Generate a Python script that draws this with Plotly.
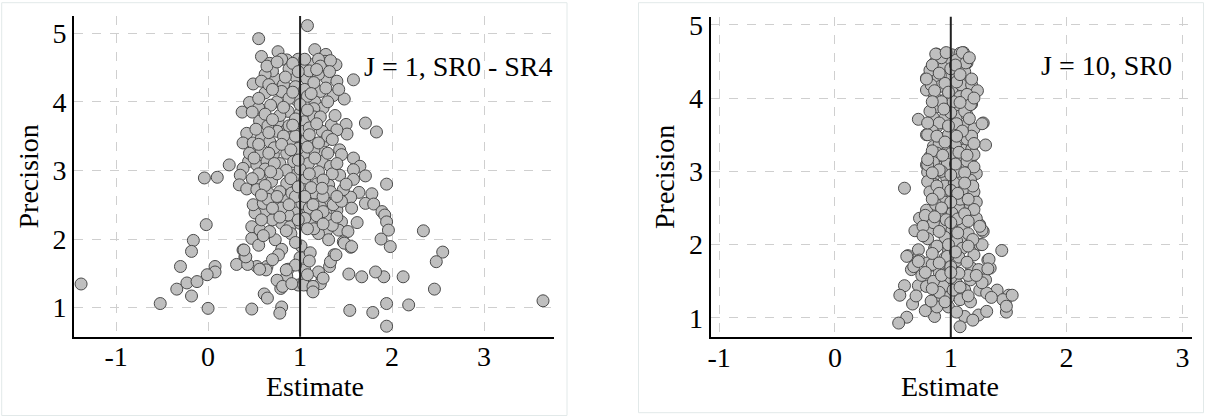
import plotly.graph_objects as go

# ---------------- data ----------------
left_title = "J = 1, SR0 - SR4"
right_title = "J = 10, SR0"
x_title = "Estimate"
y_title = "Precision"
x_ticks = [-1, 0, 1, 2, 3]
x_tick_labels = ["-1", "0", "1", "2", "3"]
y_ticks = [1, 2, 3, 4, 5]
reference_estimate = 1

left_estimate = [
    -1.38, -0.52, -0.34, -0.30, -0.23, 2.55, 2.48, 2.46, 3.64,
    1.08, 0.55, 0.58, 0.76, 0.855, 0.67, 1.16, 1.28, 1.39, 1.58,
    1.27, 1.13, 1.02, 0.95, 0.73, 1.07, 1.29, 0.49, 0.95, 0.82,
    1.22, 1.36, 1.48, 0.62, 0.75, 0.96, 1.16, 0.45, 0.37, 0.55,
    0.87, 1.00, 1.25, 1.05, 0.76, 0.56, 1.34, 1.50, 1.71, 1.83,
    1.51, 1.40, 1.24, 1.04, 0.855, 0.75, 0.42, 0.38, 0.49, 0.58,
    0.67, 0.89, 1.02, 1.14, 1.27, 1.43, 1.45, 0.58, 0.71, 0.855,
    1.04, 1.22, 0.44, 0.23, 0.38, 0.53, 0.64, 0.78, 0.93, 1.09,
    1.24, 1.33, 1.58, 1.65, 1.58, 0.80, 0.98, 1.20,
    -0.04, 0.10, 0.35, 0.34, 0.42, 0.57, 0.69, 0.855, 0.95, 1.05,
    1.18, 1.31, 1.43, 1.58, 1.71, 1.94, 1.78, 1.64, 1.55, 1.56,
    1.71, 1.80, 1.89, 1.92, 1.94, 1.96, 1.88, 1.98, 2.34, 1.40,
    1.45, 1.42, 1.62, 1.52, 1.29, 1.20, 1.31, 1.47, 1.55, 1.37,
    1.32, 1.24, 1.13, 1.05, 1.00, 1.01, 1.11, 0.87, 0.855, 0.98,
    0.79, 0.80, 0.78, 0.475, 0.00, 0.64, 0.63, 0.53, 0.61, 0.645,
    0.40, 0.38, 0.31, 0.475, 0.55, 0.73, 0.80, 0.765, 0.475, 0.565,
    0.67, 0.80, 0.89, 1.00, 1.11, 1.07, 0.96, 0.87, 0.73, 0.62,
    0.51, 0.49, 0.60, 0.71, 0.855, 1.02, 1.18, 1.29, 1.22, 1.36,
    0.53, 0.655, 0.78, 0.91, 1.04, 1.16, 1.33, 1.47, 1.91, 1.82,
    1.67, 1.53, 2.12, 2.18, 1.94, 1.79, 1.54, 1.94, -0.16, -0.18,
    0.076, 0.076, -0.01, -0.12, -0.18, -0.02,
    0.70, 0.88, 1.10, 1.20, 0.62, 0.80, 1.05, 1.15, 0.88, 1.08,
    0.68, 1.15, 0.78, 0.95, 1.15, 0.65, 0.88, 1.10, 1.30, 0.95,
    0.72, 0.98, 1.15, 0.45, 0.62, 0.85, 1.00, 1.20, 1.35, 0.75,
    0.55, 1.12, 0.95, 1.25, 0.65, 1.10, 0.80, 1.45, 1.05, 0.70,
    1.30, 0.90, 1.15, 0.60, 1.35, 0.95, 1.10, 0.70, 0.95, 1.20,
    0.75, 1.05, 1.22, 0.56, 0.81, 0.91, 0.85, 1.04, 1.14, 1.14,
    1.08, 1.25, 1.33, 1.39, 1.48, 1.56, 0.43, 0.41, 0.39,
    0.64, 0.75, 0.92, 1.05, 1.22, 1.33,
    0.58, 0.84, 0.98, 1.18, 1.32, 1.40, 0.66,
    0.70, 0.92, 1.12, 1.28, 1.42, 0.55, 1.00, 1.30,
    0.48, 0.62, 0.82, 1.08, 1.22, 1.38, 0.70, 0.92, 1.18,
    0.52, 0.66, 0.82, 1.10, 1.35, 0.55, 0.80, 1.08, 1.20,
    0.50, 0.66, 0.90, 1.30, 0.72, 0.98, 1.16, 1.40,
    0.48, 0.68, 0.90, 1.10, 1.25, 1.50, 0.62, 0.98, 1.24,
    0.58, 0.75, 0.88, 1.05, 1.14, 1.40, 0.70, 1.25,
    0.58, 0.78, 0.98, 1.18, 1.40, 0.85, 1.08, 1.25,
]
left_precision = [
    1.345, 1.06, 1.27, 1.60, 1.36, 1.81, 1.67, 1.27, 1.10,
    5.11, 4.92, 4.66, 4.73, 4.61, 4.56, 4.76, 4.69, 4.54, 4.32,
    4.59, 4.54, 4.54, 4.37, 4.34, 4.34, 4.34, 4.26, 4.22, 4.25,
    4.15, 4.09, 4.04, 4.13, 4.00, 4.03, 4.00, 3.99, 3.85, 3.91,
    3.86, 3.83, 3.91, 3.71, 3.71, 3.72, 3.66, 3.67, 3.69, 3.56,
    3.53, 3.59, 3.57, 3.57, 3.59, 3.57, 3.54, 3.40, 3.40, 3.47,
    3.42, 3.42, 3.42, 3.40, 3.43, 3.30, 3.23, 3.27, 3.23, 3.25,
    3.23, 3.25, 3.13, 3.08, 3.03, 3.08, 3.13, 3.10, 3.13, 3.10,
    3.13, 3.06, 3.18, 3.06, 3.01, 4.62, 4.62, 4.62,
    2.89, 2.90, 2.93, 2.79, 2.73, 2.86, 2.84, 2.81, 2.93, 2.86,
    2.80, 2.79, 2.93, 2.87, 2.92, 2.80, 2.66, 2.68, 2.61, 2.45,
    2.52, 2.51, 2.40, 2.35, 2.25, 2.13, 2.00, 1.89, 2.12, 2.42,
    2.25, 2.13, 2.24, 2.11, 2.13, 2.08, 1.99, 1.96, 1.88, 1.77,
    1.60, 1.43, 1.28, 1.55, 1.73, 1.90, 1.80, 1.56, 1.46, 1.33,
    1.28, 1.01, 0.92, 0.98, 0.99, 1.60, 1.55, 1.60, 1.20, 1.14,
    1.74, 1.84, 1.63, 2.01, 1.91, 1.99, 1.85, 1.77, 2.18, 2.13,
    2.11, 2.23, 2.18, 2.23, 2.25, 2.38, 2.38, 2.35, 2.40, 2.40,
    2.38, 2.50, 2.52, 2.55, 2.57, 2.52, 2.55, 2.52, 2.47, 2.50,
    2.72, 2.67, 2.69, 2.67, 2.72, 2.67, 2.69, 2.72, 1.45, 1.52,
    1.45, 1.49, 1.45, 1.04, 1.06, 0.93, 0.96, 0.73, 1.98, 1.82,
    1.60, 1.52, 1.48, 1.38, 1.17, 2.21,
    4.45, 4.48, 4.45, 4.40, 4.40, 4.15, 4.18, 4.28, 4.05, 4.08,
    3.95, 3.90, 3.80, 3.75, 3.78, 3.65, 3.65, 3.62, 3.50, 3.50,
    3.33, 3.32, 3.30, 3.25, 3.02, 3.00, 3.02, 2.98, 2.95, 2.95,
    2.95, 2.75, 2.62, 2.62, 2.58, 2.45, 2.45, 2.55, 2.30, 2.28,
    2.30, 2.08, 2.15, 2.05, 2.20, 1.95, 1.68, 1.70, 1.62, 1.52,
    1.40, 1.40, 1.35, 1.56, 1.31, 1.35, 1.55, 1.33, 1.31, 1.23,
    1.48, 1.43, 1.67, 1.77, 1.94, 1.89, 1.63, 1.74, 1.84,
    4.52, 4.58, 4.56, 4.62, 4.52, 4.60,
    4.30, 4.36, 4.44, 4.47, 4.44, 4.30, 4.25,
    4.18, 4.14, 4.12, 4.20, 4.18, 4.05, 3.96, 4.00,
    3.85, 3.82, 3.92, 3.88, 3.78, 3.80, 3.74, 3.66, 3.68,
    3.60, 3.55, 3.50, 3.52, 3.45, 3.38, 3.38, 3.34, 3.40,
    3.18, 3.25, 3.30, 3.25, 3.10, 3.15, 3.18, 3.10,
    2.88, 2.98, 2.88, 2.95, 2.86, 2.80, 2.78, 2.76, 2.74,
    2.64, 2.62, 2.50, 2.62, 2.50, 2.62, 2.45, 2.40,
    2.28, 2.32, 2.28, 2.34, 2.32, 2.12, 2.15, 2.22,
]

right_estimate = [
    0.878, 1.01, 1.11, 1.08, 0.86, 0.99, 1.14, 0.935, 1.065, 0.79,
    0.89, 1.01, 1.11, 0.79, 0.91, 1.01, 1.09, 1.18, 1.23, 0.86,
    0.965, 1.08, 1.18, 0.88, 0.98, 1.08, 0.72, 0.85, 0.95, 1.05,
    1.14, 1.28, 0.88, 1.01, 1.11, 0.79, 0.91, 1.05, 1.17, 1.30,
    0.85, 0.965, 1.11, 0.82, 0.935, 1.05, 1.18, 0.79, 0.89, 1.01,
    1.11, 1.22, 0.85, 0.965, 1.08, 0.60, 0.86, 1.09,
    0.89, 1.01, 1.11, 1.19, 1.17, 1.19, 1.065, 1.01, 0.91, 0.82,
    0.73, 0.79, 0.69, 0.82, 0.92, 1.01, 1.11, 1.25, 1.28, 1.12,
    1.18, 1.25, 1.44, 0.86, 0.98, 0.72, 0.63, 0.73, 0.66, 0.835,
    0.99, 1.065, 1.18, 1.24, 1.32, 1.34, 0.60, 0.56, 0.72, 0.79,
    0.935, 1.05, 1.17, 1.12, 1.25, 1.40, 1.47, 1.50, 1.31, 0.67,
    0.835, 0.91, 0.98, 0.98, 1.08, 1.17, 0.62, 0.55, 0.86, 1.12,
    1.24, 1.31, 1.08, 1.19, 1.48, 1.45, 1.53, 1.48,
    0.92, 1.05, 0.82, 1.00, 1.12, 0.95, 1.05, 0.83, 1.14, 0.92,
    1.02, 0.82, 1.12, 1.00, 0.90, 1.05, 1.20, 0.84, 0.98, 1.14,
    0.90, 1.04, 1.18, 0.88, 1.00, 1.14, 0.85, 0.97, 1.06, 0.80,
    0.92, 1.17, 0.80, 0.95, 1.03, 0.82, 1.00, 1.20, 0.95, 1.08,
    0.87, 1.22, 0.78, 0.96, 1.06, 1.22, 0.85, 0.76, 1.15, 0.95,
    0.80, 1.05, 0.88, 1.10, 1.20, 0.95, 0.80, 1.05, 0.90, 1.15,
    0.75, 1.00, 0.85, 1.30, 0.68, 0.70, 0.90, 1.02, 0.78, 1.05,
    0.88, 1.35, 1.33, 1.32, 1.27, 1.19, 1.27, 1.25, 1.19, 1.20,
    0.80, 0.80, 1.27, 1.20, 1.18, 1.17, 0.79, 0.87, 1.10, 1.13,
    0.62, 0.72, 0.84, 0.92, 1.07, 1.07, 0.97, 1.00, 0.83, 1.27,
    0.84, 0.96, 1.16, 1.04, 0.90, 1.08, 1.18, 0.86, 0.98, 1.20,
    0.84, 1.08, 0.94, 1.16, 0.80, 0.98, 1.10, 0.88, 1.05, 0.95,
    1.20, 0.84, 1.07, 0.93, 1.14, 0.80, 1.04, 1.20, 0.90, 1.12,
    0.84, 1.00, 0.88, 1.12, 0.90, 1.06, 1.15, 0.84, 1.00, 0.92,
    1.12, 0.86, 1.00, 1.15, 0.90, 1.06, 0.76, 0.98, 1.15, 0.84,
    1.04, 1.14, 0.90, 0.78, 1.00, 1.22, 0.84, 1.08, 0.95, 1.15,
]
right_precision = [
    4.60, 4.59, 4.62, 4.61, 4.48, 4.51, 4.48, 4.41, 4.41, 4.27,
    4.29, 4.29, 4.29, 4.11, 4.16, 4.12, 4.18, 4.18, 4.10, 4.02,
    4.00, 4.02, 3.92, 3.88, 3.86, 3.86, 3.71, 3.73, 3.73, 3.75,
    3.77, 3.66, 3.61, 3.57, 3.61, 3.50, 3.45, 3.41, 3.48, 3.36,
    3.34, 3.32, 3.29, 3.20, 3.18, 3.20, 3.20, 3.09, 3.06, 3.04,
    3.07, 2.97, 2.93, 2.91, 2.93, 2.77, 2.82, 2.79,
    2.63, 2.68, 2.75, 2.66, 2.54, 2.45, 2.52, 2.43, 2.45, 2.43,
    2.36, 2.47, 2.19, 2.20, 2.25, 2.20, 2.25, 2.27, 2.18, 2.09,
    2.04, 2.00, 1.92, 1.95, 1.91, 1.93, 1.85, 1.79, 1.66, 1.72,
    1.72, 1.60, 1.68, 1.66, 1.79, 1.68, 1.44, 1.31, 1.44, 1.43,
    1.43, 1.47, 1.52, 1.38, 1.38, 1.38, 1.22, 1.31, 1.34, 1.19,
    1.20, 1.27, 1.28, 1.15, 1.25, 1.22, 1.01, 0.93, 1.02, 1.02,
    1.04, 1.09, 0.88, 0.97, 1.08, 1.25, 1.31, 1.16,
    4.55, 4.52, 4.38, 4.40, 4.36, 4.20, 4.22, 4.18, 4.05, 3.95,
    3.95, 3.82, 3.82, 3.80, 3.66, 3.65, 3.58, 3.55, 3.50, 3.44,
    3.38, 3.35, 3.30, 3.25, 3.24, 3.14, 3.12, 3.10, 3.00, 2.99,
    3.00, 2.88, 2.86, 2.80, 2.84, 2.72, 2.74, 2.72, 2.58, 2.62,
    2.55, 2.58, 2.40, 2.34, 2.35, 2.36, 2.30, 2.25, 2.15, 2.10,
    2.08, 2.05, 1.98, 1.95, 1.86, 1.82, 1.75, 1.78, 1.62, 1.58,
    1.58, 1.55, 1.50, 1.52, 1.70, 1.30, 1.35, 1.38, 1.10, 1.08,
    1.15, 1.28, 1.80, 1.67, 2.00, 2.07, 2.20, 2.25, 2.80, 2.48,
    3.09, 3.50, 3.65, 3.23, 3.48, 3.91, 4.26, 4.60, 4.62, 4.48,
    1.84, 1.77, 1.73, 1.58, 1.61, 1.83, 1.84, 1.70, 1.23, 1.48,
    4.45, 4.62, 4.55, 4.45, 4.34, 4.32, 4.26, 4.10, 4.08, 4.00,
    3.95, 3.94, 3.85, 3.72, 3.66, 3.62, 3.55, 3.48, 3.48, 3.40,
    3.38, 3.28, 3.26, 3.22, 3.22, 3.16, 3.10, 3.06, 3.02, 2.98,
    2.98, 2.95, 2.80, 2.84, 2.70, 2.70, 2.62, 2.62, 2.58, 2.50,
    2.42, 2.38, 2.30, 2.32, 2.18, 2.16, 2.12, 2.00, 1.98, 1.88,
    1.90, 1.76, 1.75, 1.62, 1.62, 1.58, 1.40, 1.42, 1.22, 1.30,
]

assert len(left_estimate) == len(left_precision)
assert len(right_estimate) == len(right_precision)

# ---------------- figure ----------------
W, H = 1205, 416
FONT = "Liberation Serif, Times New Roman, Times, serif"
TXT = dict(family=FONT, size=28, color="black")
marker = dict(size=12, color="#bfbfbf", line=dict(color="#4a4a4a", width=1))

fig = go.Figure()
fig.add_trace(go.Scatter(x=left_estimate, y=left_precision, mode="markers",
                         marker=marker, xaxis="x", yaxis="y", showlegend=False,
                         hoverinfo="skip"))
fig.add_trace(go.Scatter(x=right_estimate, y=right_precision, mode="markers",
                         marker=marker, xaxis="x2", yaxis="y2", showlegend=False,
                         hoverinfo="skip"))


def xpx(p):
    return p / W


def ypx(p):
    return (H - p) / H


axis_common = dict(
    showgrid=True, gridcolor="#cfcfcf", gridwidth=1, griddash="dash",
    showline=True, linecolor="black", linewidth=2, zeroline=False,
    ticks="", tickfont=TXT, automargin=False,
)

fig.update_layout(
    width=W, height=H, margin=dict(l=0, r=0, t=0, b=0),
    paper_bgcolor="white", plot_bgcolor="white",
    font=TXT,
    xaxis=dict(domain=[xpx(74), xpx(553.5)], range=[-1.457, 3.754],
               tickvals=x_ticks, ticktext=x_tick_labels, anchor="y",
               ticklabelstandoff=-6, **axis_common),
    yaxis=dict(domain=[ypx(336.7), ypx(16)], range=[0.577, 5.25],
               tickvals=y_ticks, anchor="x",
               title=dict(text=y_title, standoff=6, font=TXT),
               **axis_common),
    xaxis2=dict(domain=[xpx(710.7), xpx(1191.7)], range=[-1.073, 3.08],
                tickvals=x_ticks, ticktext=x_tick_labels, anchor="y2",
                ticklabelstandoff=-6, **axis_common),
    yaxis2=dict(domain=[ypx(337), ypx(16.7)], range=[0.74, 5.11],
                tickvals=y_ticks, anchor="x2",
                title=dict(text=y_title, standoff=6, font=TXT),
                **axis_common),
)

# reference line at estimate = 1
for xr, yr in (("x", "y domain"), ("x2", "y2 domain")):
    fig.add_shape(type="line", xref=xr, yref=yr, x0=reference_estimate,
                  x1=reference_estimate, y0=0, y1=1,
                  line=dict(color="#222222", width=2), layer="above")

# panel borders
fig.add_shape(type="rect", xref="paper", yref="paper",
              x0=xpx(1.7), x1=xpx(567), y0=ypx(415.5), y1=ypx(2.7),
              line=dict(color="#e2e9e9", width=1), layer="below")
fig.add_shape(type="rect", xref="paper", yref="paper",
              x0=xpx(638.5), x1=xpx(1203.5), y0=ypx(412.7), y1=ypx(2.7),
              line=dict(color="#e2e9e9", width=1), layer="below")

# x axis titles
fig.add_annotation(text=x_title, xref="paper", yref="paper",
                   x=xpx(315), y=ypx(386), xanchor="center", yanchor="middle",
                   showarrow=False, font=TXT)
fig.add_annotation(text=x_title, xref="paper", yref="paper",
                   x=xpx(950), y=ypx(386), xanchor="center", yanchor="middle",
                   showarrow=False, font=TXT)

# panel labels
fig.add_annotation(text=left_title, xref="paper", yref="paper",
                   x=xpx(555), y=ypx(66.7), xanchor="right", yanchor="middle",
                   showarrow=False, font=TXT)
fig.add_annotation(text=right_title, xref="paper", yref="paper",
                   x=xpx(1174), y=ypx(65), xanchor="right", yanchor="middle",
                   showarrow=False, font=TXT)

fig.write_html("out.html")
